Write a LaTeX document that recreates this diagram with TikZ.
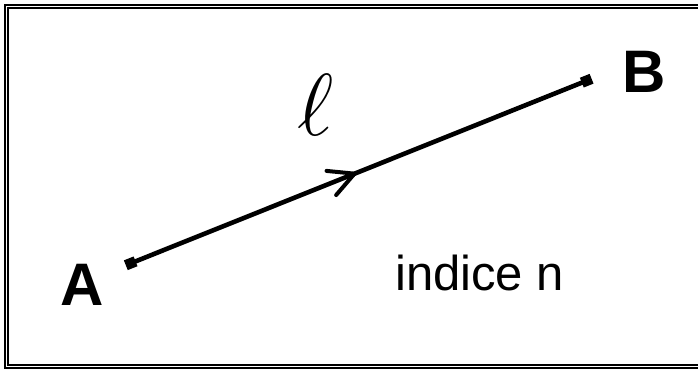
\documentclass[tikz,border=0pt]{standalone}
\usepackage{fontspec}
\setmainfont{Liberation Sans}
\usetikzlibrary{arrows.meta,decorations.markings}
\tikzset{
  frameline/.style={line width=2pt},
  endmark/.style={draw=none, fill=black, rectangle, minimum size=10.5pt, inner sep=0pt, rotate=21.8},
  segline/.style={line width=4.6pt,
    postaction={decorate},
    decoration={markings, mark=at position 0.495 with {\arrow{Straight Barb[length=25pt,width=26pt,line width=4pt,round]}}}},
  bigletter/.style={font=\fontsize{60}{64}\selectfont\bfseries, inner sep=0pt, anchor=base},
  lbl/.style={font=\fontsize{49}{52}\selectfont, inner sep=0pt, anchor=base west}
}
\begin{document}
\begin{tikzpicture}[x=1pt,y=-1pt]
\useasboundingbox (0,0) rectangle (698,370);
\clip (0,0) rectangle (698,370);
% double frame
\draw[frameline] (4.5,4.8) rectangle (720,367.8);
\draw[frameline] (8.3,7.8) rectangle (716,365);
% end points
\node[endmark] (pA) at (130.7,263.3) {};
\node[endmark] (pB) at (586.7,80.7) {};
\draw[segline] (pA.center) -- (pB.center);
% labels
\node[bigletter] (lA) at (82.5,305.7) {A};
\node[bigletter] (lB) at (644,92.3) {B};
\node[inner sep=0pt, font=\fontsize{24.88}{26}\selectfont] (ell) at (315.5,104.5) {\scalebox{3.537}{$\ell$}};
\node[lbl] (idx) at (395,290) {indice n};
\end{tikzpicture}
\end{document}
